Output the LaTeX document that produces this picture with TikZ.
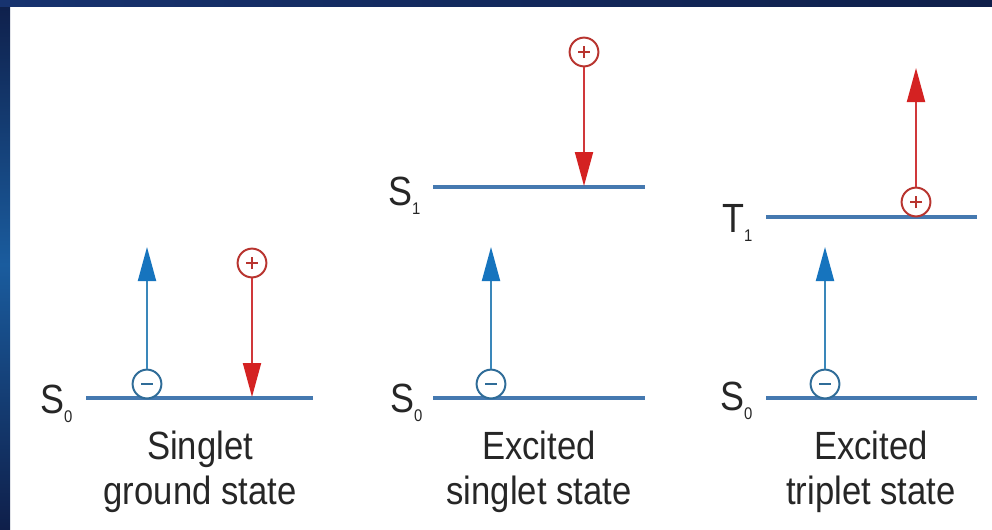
\documentclass[tikz,border=0pt]{standalone}
\usepackage{fontspec}
\setmainfont{Liberation Sans}
\newfontfamily\capfont[FakeStretch=0.88]{Liberation Sans}
\usetikzlibrary{arrows.meta}
\definecolor{framenavy}{HTML}{0F1F4A}
\definecolor{frametop}{HTML}{17336F}
\definecolor{framemid}{HTML}{1A5C9E}
\definecolor{levelblue}{HTML}{4579B0}
\definecolor{shaftblue}{HTML}{3A87BA}
\definecolor{spinblue}{HTML}{1674BE}
\definecolor{shaftred}{HTML}{D0383A}
\definecolor{spinred}{HTML}{D42222}
\definecolor{ringblue}{HTML}{2F6C98}
\definecolor{ringred}{HTML}{B8342F}
\definecolor{labelgray}{HTML}{262626}

% term symbol with a lowered index
\newcommand{\state}[2]{#1\raisebox{-7pt}{\fontsize{12}{12}\selectfont #2}}

\begin{document}
\begin{tikzpicture}[x=0.025cm, y=-0.025cm,
    energy/.style={draw=levelblue, line width=2.2pt},
    ring/.style={circle, draw, fill=white, line width=1.4pt, minimum size=0.72cm, inner sep=0pt},
    electron/.style={ring, draw=ringblue, path picture={
        \draw[ringblue, line width=2pt]
          ([xshift=-0.15cm]path picture bounding box.center) -- ([xshift=0.15cm]path picture bounding box.center);}},
    hole/.style={ring, draw=ringred, path picture={
        \draw[ringred, line width=1.6pt]
          ([xshift=-0.15cm]path picture bounding box.center) -- ([xshift=0.15cm]path picture bounding box.center)
          ([yshift=-0.15cm]path picture bounding box.center) -- ([yshift=0.15cm]path picture bounding box.center);}},
    spinblue/.style={draw=shaftblue, line width=1.4pt, -{Triangle[length=0.85cm, width=0.45cm, color=spinblue]}},
    spinred/.style={draw=shaftred, line width=1.4pt, -{Triangle[length=0.85cm, width=0.45cm, color=spinred]}},
    lbl/.style={anchor=base west, inner sep=0pt, text=labelgray, font=\capfont\fontsize{29}{29}\selectfont},
    statename/.style={anchor=north, align=center, inner sep=0pt, text=labelgray, font=\capfont\fontsize{28}{32}\selectfont}]

  \useasboundingbox (0,0) rectangle (992,529);
  \fill[white] (0,0) rectangle (992,529);
  \shade[top color=framenavy, bottom color=framenavy, middle color=framemid] (0,0) rectangle (10,529);
  \shade[left color=frametop, right color=framenavy] (0,0) rectangle (992,6);

  % singlet ground state
  \draw[energy] (86,398) -- (313,398);
  \node[lbl] (g0) at (40,413) {\state{S}{0}};
  \node[electron] (ge) at (147,384) {};
  \node[hole] (gh) at (252,263) {};
  \coordinate (ge tip) at (147,247);
  \coordinate (gh tip) at (252,397);
  \draw[spinblue] (ge) -- (ge tip);
  \draw[spinred] (gh) -- (gh tip);
  \node[statename] (gname) at (200,431) {Singlet\\ground state};

  % excited singlet state
  \draw[energy] (433,187) -- (645,187);
  \draw[energy] (433,398) -- (645,398);
  \node[lbl] (s1) at (388,205) {\state{S}{1}};
  \node[lbl] (s0) at (390,412) {\state{S}{0}};
  \node[hole] (sh) at (584,52) {};
  \node[electron] (se) at (491,384) {};
  \coordinate (sh tip) at (584,186);
  \coordinate (se tip) at (491,247);
  \draw[spinred] (sh) -- (sh tip);
  \draw[spinblue] (se) -- (se tip);
  \node[statename] (sname) at (539,431) {Excited\\singlet state};

  % excited triplet state
  \draw[energy] (766,217) -- (977,217);
  \draw[energy] (766,398) -- (977,398);
  \node[lbl] (t1) at (722,232) {\state{T}{1}};
  \node[lbl] (t0) at (720,410) {\state{S}{0}};
  \node[hole] (th) at (916,202) {};
  \node[electron] (te) at (825,384) {};
  \coordinate (th tip) at (916,68);
  \coordinate (te tip) at (825,247);
  \draw[spinred] (th) -- (th tip);
  \draw[spinblue] (te) -- (te tip);
  \node[statename] (tname) at (871,431) {Excited\\triplet state};
\end{tikzpicture}
\end{document}
